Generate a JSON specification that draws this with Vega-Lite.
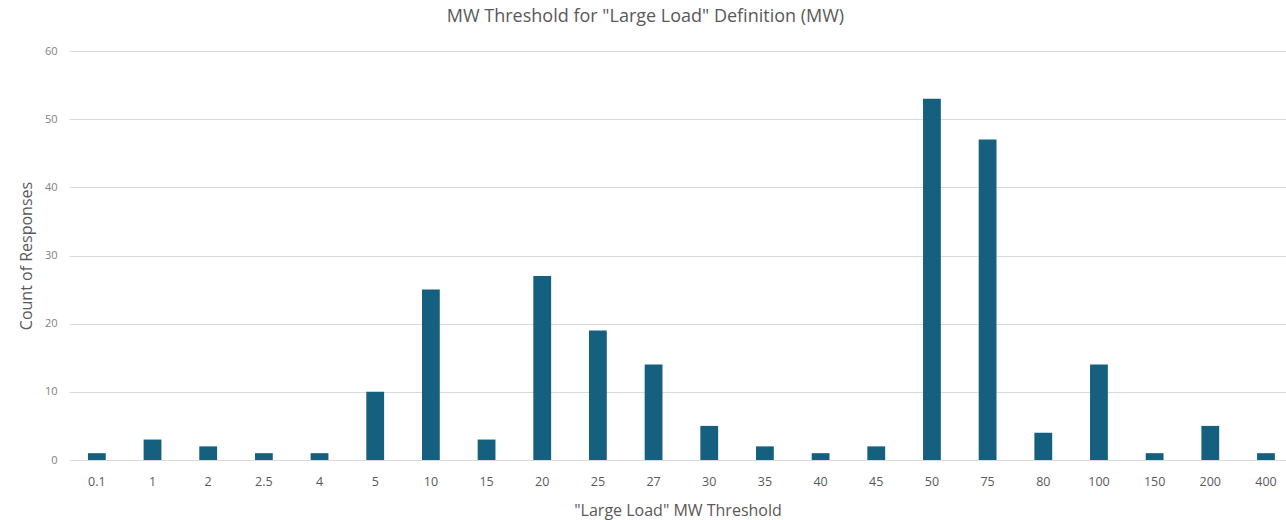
{
  "$schema": "https://vega.github.io/schema/vega-lite/v6.json",
  "autosize": "none",
  "padding": {"left": 69, "top": 51, "right": 0, "bottom": 60},
  "width": 1217,
  "height": 409,
  "background": "white",
  "title": {
    "text": "MW Threshold for \"Large Load\" Definition (MW)",
    "font": "Open Sans",
    "fontSize": 18,
    "fontWeight": "normal",
    "color": "#595959",
    "anchor": "middle",
    "dx": -32,
    "offset": 19
  },
  "data": {
    "values": [
      {"mw": "0.1", "count": 1},
      {"mw": "1", "count": 3},
      {"mw": "2", "count": 2},
      {"mw": "2.5", "count": 1},
      {"mw": "4", "count": 1},
      {"mw": "5", "count": 10},
      {"mw": "10", "count": 25},
      {"mw": "15", "count": 3},
      {"mw": "20", "count": 27},
      {"mw": "25", "count": 19},
      {"mw": "27", "count": 14},
      {"mw": "30", "count": 5},
      {"mw": "35", "count": 2},
      {"mw": "40", "count": 1},
      {"mw": "45", "count": 2},
      {"mw": "50", "count": 53},
      {"mw": "75", "count": 47},
      {"mw": "80", "count": 4},
      {"mw": "100", "count": 14},
      {"mw": "150", "count": 1},
      {"mw": "200", "count": 5},
      {"mw": "400", "count": 1}
    ]
  },
  "mark": {"type": "bar", "color": "#16607f"},
  "encoding": {
    "x": {
      "field": "mw",
      "type": "ordinal",
      "sort": null,
      "scale": {"paddingInner": 0.68, "paddingOuter": 0.27, "align": 0.63},
      "axis": {
        "title": "\"Large Load\" MW Threshold",
        "titleFont": "Open Sans",
        "titleFontSize": 16,
        "titleFontWeight": "normal",
        "titleColor": "#595959",
        "titlePadding": 15,
        "labelFont": "Open Sans",
        "labelFontSize": 12.5,
        "labelColor": "#595959",
        "labelAngle": 0,
        "labelPadding": 15,
        "ticks": false,
        "domain": false,
        "grid": false
      }
    },
    "y": {
      "field": "count",
      "type": "quantitative",
      "scale": {"domain": [0, 60]},
      "axis": {
        "title": "Count of Responses",
        "titleFont": "Open Sans",
        "titleFontSize": 16,
        "titleFontWeight": "normal",
        "titleColor": "#595959",
        "titlePadding": 10,
        "labelFont": "Open Sans",
        "labelFontSize": 11,
        "labelColor": "#7f7f7f",
        "labelPadding": 12,
        "values": [0, 10, 20, 30, 40, 50, 60],
        "ticks": false,
        "domain": false,
        "grid": true,
        "gridColor": "#d9d9d9",
        "gridWidth": 1
      }
    }
  },
  "config": {"view": {"stroke": null}}
}
